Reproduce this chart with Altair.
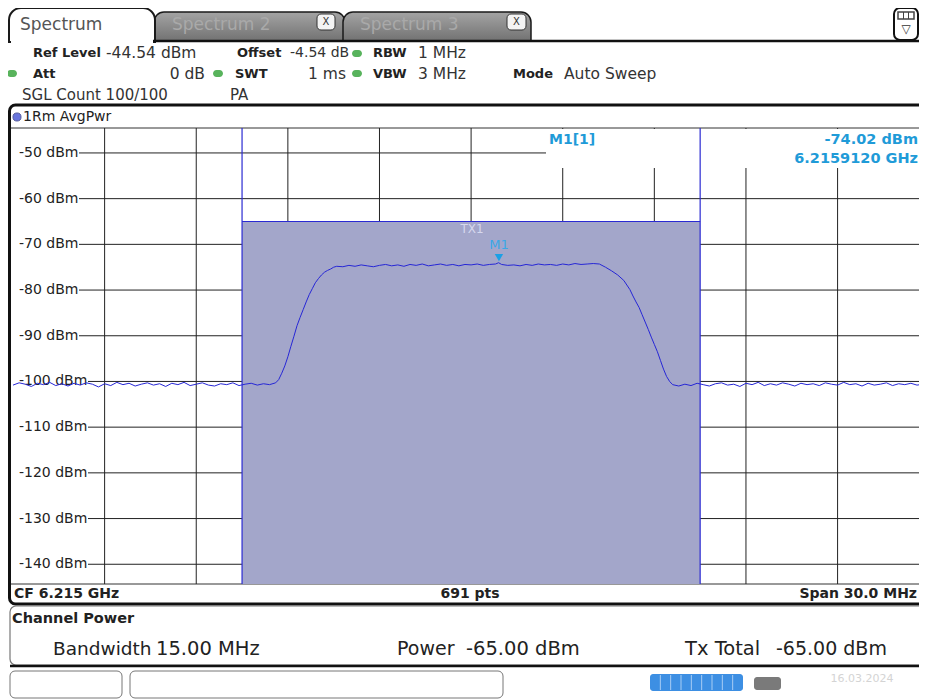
import altair as alt
import pandas as pd

# ---------------- data ----------------
left_noise_f = [-15.0, -14.8, -14.6, -14.4, -14.2, -14.0, -13.8, -13.6, -13.4, -13.2,
                -13.0, -12.8, -12.6, -12.4, -12.2, -12.0, -11.8, -11.6, -11.4, -11.2,
                -11.0, -10.8, -10.6, -10.4, -10.2, -10.0, -9.8, -9.6, -9.4, -9.2,
                -9.0, -8.8, -8.6, -8.4, -8.2, -8.0, -7.8, -7.6, -7.4, -7.2,
                -7.0, -6.8, -6.6]
left_noise_db = [-100.8, -100.3, -100.6, -101.1, -100.4, -100.7, -100.2, -100.9, -100.5, -101.0,
                 -100.4, -100.8, -100.3, -100.6, -101.2, -100.5, -100.9, -100.2, -100.7, -100.4,
                 -101.0, -100.6, -100.3, -100.8, -100.5, -101.1, -100.4, -100.7, -100.2, -100.9,
                 -100.6, -100.3, -100.8, -101.0, -100.5, -100.7, -100.3, -100.9, -100.6, -100.4,
                 -100.8, -100.5, -100.7]
rise_f = [-6.4, -6.3, -6.2, -6.1, -6.0, -5.9, -5.8, -5.7, -5.6, -5.5,
          -5.4, -5.3, -5.2, -5.1, -5.0, -4.9, -4.8, -4.7, -4.6, -4.5, -4.4]
rise_db = [-100.3, -99.6, -98.2, -96.6, -94.6, -92.3, -90.1, -87.8, -86.0, -84.3,
           -82.6, -81.0, -79.7, -78.4, -77.5, -76.7, -76.1, -75.7, -75.4, -75.0, -74.8]
top_f = [-4.2, -4.0, -3.8, -3.6, -3.4, -3.2, -3.0, -2.8, -2.6, -2.4,
         -2.2, -2.0, -1.8, -1.6, -1.4, -1.2, -1.0, -0.8, -0.6, -0.4,
         -0.2, 0.0, 0.2, 0.4, 0.6, 0.8, 0.9, 1.0, 1.2, 1.4,
         1.6, 1.8, 2.0, 2.2, 2.4, 2.6, 2.8, 3.0, 3.2, 3.4,
         3.6, 3.8, 4.0]
top_db = [-74.9, -74.6, -74.8, -74.5, -74.7, -74.9, -74.6, -74.4, -74.7, -74.5,
          -74.8, -74.4, -74.6, -74.3, -74.7, -74.5, -74.3, -74.6, -74.4, -74.7,
          -74.4, -74.5, -74.3, -74.6, -74.4, -74.3, -74.02, -74.4, -74.6, -74.5,
          -74.7, -74.4, -74.6, -74.3, -74.5, -74.4, -74.6, -74.3, -74.5, -74.2,
          -74.4, -74.3, -74.2]
fall_f = [4.2, 4.4, 4.6, 4.8, 5.0, 5.1, 5.2, 5.3, 5.4, 5.5, 5.6,
          5.7, 5.8, 5.9, 6.0, 6.1, 6.2, 6.3, 6.4, 6.5, 6.6, 6.8]
fall_db = [-74.3, -75.0, -75.8, -76.7, -77.9, -78.9, -79.9, -81.3, -82.6, -83.8, -85.4,
           -87.0, -88.6, -90.3, -91.9, -93.5, -95.4, -97.3, -98.9, -100.0, -100.7, -101.0]
right_noise_f = [7.0, 7.2, 7.4, 7.6, 7.8, 8.0, 8.2, 8.4, 8.6, 8.8,
                 9.0, 9.2, 9.4, 9.6, 9.8, 10.0, 10.2, 10.4, 10.6, 10.8,
                 11.0, 11.2, 11.4, 11.6, 11.8, 12.0, 12.2, 12.4, 12.6, 12.8,
                 13.0, 13.2, 13.4, 13.6, 13.8, 14.0, 14.2, 14.4, 14.6, 14.8,
                 15.0]
right_noise_db = [-100.6, -100.9, -100.4, -100.7, -101.0, -100.5, -100.3, -100.8, -100.6, -101.1,
                  -100.4, -100.7, -100.2, -100.9, -100.5, -100.8, -100.3, -100.6, -101.0, -100.4,
                  -100.7, -100.5, -100.9, -100.3, -100.6, -100.8, -100.2, -100.7, -100.5, -101.0,
                  -100.4, -100.8, -100.6, -100.3, -100.9, -100.5, -100.7, -100.4, -100.8, -100.6,
                  -100.5]

level_ticks = [-50, -60, -70, -80, -90, -100, -110, -120, -130, -140]
freq_ticks = [-12, -9, -6, -3, 0, 3, 6, 9, 12]
ref_level = -44.54
bottom_level = -144.54
span_lo = -15.0
center_ghz = 6.215
channel_lo, channel_hi = -7.5, 7.5
channel_power = -65.0
marker_f = 0.912
marker_db = -74.02

# ---------------- layout (page pixels) ----------------
OX, OY = 13, 128          # page position of plot origin
RIGHT = 919               # right edge of drawable page area
W, H = RIGHT - OX, 457    # plot area
PX_PER_MHZ = 30.54
x_hi = span_lo + W / PX_PER_MHZ

FONT = "DejaVu Sans"
xs = alt.Scale(domain=[span_lo, x_hi], nice=False, zero=False)
ys = alt.Scale(domain=[bottom_level, ref_level], nice=False, zero=False)

one = pd.DataFrame({"k": [0]})


def T(s, X, Y, size=14, weight="normal", color="#222", align="left"):
    return alt.Chart(one).mark_text(
        text=s, fontSize=size, fontWeight=weight, color=color, align=align,
        baseline="middle", font=FONT
    ).encode(x=alt.value(X - OX), y=alt.value(Y - OY))


def R(x1, y1, x2, y2, fill="white", stroke="", sw=1.0, r=0, tl=0, tr=0):
    props = dict(fill=fill)
    if stroke:
        props.update(stroke=stroke, strokeWidth=sw)
    if r:
        props["cornerRadius"] = r
    if tl:
        props["cornerRadiusTopLeft"] = tl
    if tr:
        props["cornerRadiusTopRight"] = tr
    return alt.Chart(one).mark_rect(**props).encode(
        x=alt.value(x1 - OX), x2=alt.value(x2 - OX),
        y=alt.value(y1 - OY), y2=alt.value(y2 - OY))


def L(x1, y1, x2, y2, color="#111", sw=1.0):
    return alt.Chart(one).mark_rule(color=color, strokeWidth=sw).encode(
        x=alt.value(x1 - OX), x2=alt.value(x2 - OX),
        y=alt.value(y1 - OY), y2=alt.value(y2 - OY))


GREEN = "#58b35c"
CYAN = "#1f9bd8"
layers = []

# ---------------- tabs ----------------
grad = alt.LinearGradient(
    gradient="linear",
    stops=[alt.GradientStop(color="#a4a4a4", offset=0),
           alt.GradientStop(color="#727272", offset=1)],
    x1=0, x2=0, y1=0, y2=1)
layers += [
    R(154, 12, 345, 41, fill=grad, stroke="#1a1a1a", sw=1.5, tl=10, tr=10),
    R(343, 12, 531, 41, fill=grad, stroke="#1a1a1a", sw=1.5, tl=10, tr=10),
    R(9, 8, 155, 42, fill="white", stroke="#1a1a1a", sw=2, tl=12, tr=12),
    L(153, 41, RIGHT, 41, sw=2.5),
    R(11, 40, 153, 45, fill="white"),
    T("Spectrum", 20, 25, size=17, color="#555"),
    T("Spectrum 2", 172, 25, size=17, color="#a9a9a9"),
    T("Spectrum 3", 360, 25, size=17, color="#a9a9a9"),
    R(317, 14, 335, 30, fill="#f4f4f4", stroke="#333", r=4),
    T("X", 326, 22, size=10, color="#333", align="center"),
    R(507, 14, 526, 30, fill="#f4f4f4", stroke="#333", r=4),
    T("X", 516.5, 22, size=10, color="#333", align="center"),
    R(894, 8, 918, 40, fill="white", stroke="#111", sw=2, r=6),
    R(898, 12, 914, 19, fill="white", stroke="#444", sw=1.5),
    L(903.5, 12, 903.5, 19, color="#444"),
    L(908.5, 12, 908.5, 19, color="#444"),
    T("▽", 906, 29, size=12, color="#333", align="center"),
]

# ---------------- header info ----------------
VAL = 15.5
LAB = 13
layers += [
    T("Ref Level", 33, 53, size=LAB, weight="bold"),
    T("-44.54 dBm", 106, 53, size=VAL, color="#333"),
    T("Offset", 237, 53, size=LAB, weight="bold"),
    T("-4.54 dB", 290, 53, size=14, color="#333"),
    R(352, 50, 362, 57, fill=GREEN, r=3.5),
    T("RBW", 373, 53, size=LAB, weight="bold"),
    T("1 MHz", 418, 53, size=VAL, color="#333"),
    R(7, 70, 17, 77, fill=GREEN, r=3.5),
    T("Att", 33, 74, size=LAB, weight="bold"),
    T("0 dB", 205, 74, size=VAL, color="#333", align="right"),
    R(213, 70, 223, 77, fill=GREEN, r=3.5),
    T("SWT", 235, 74, size=LAB, weight="bold"),
    T("1 ms", 346, 74, size=VAL, color="#333", align="right"),
    R(352, 70, 362, 77, fill=GREEN, r=3.5),
    T("VBW", 373, 74, size=LAB, weight="bold"),
    T("3 MHz", 418, 74, size=VAL, color="#333"),
    T("Mode", 513, 74, size=LAB, weight="bold"),
    T("Auto Sweep", 564, 74, size=VAL, color="#333"),
    T("SGL Count 100/100", 22, 95, size=15, color="#333"),
    T("PA", 230, 95, size=15, color="#333"),
]

# ---------------- frame ----------------
layers += [
    R(9.5, 105, 980, 604, fill="white", stroke="#111", sw=3, r=6),
    alt.Chart(one).mark_point(shape="circle", filled=True, size=65, color="#2a3bd0",
                              stroke="#101870", strokeWidth=1).encode(
        x=alt.value(17 - OX), y=alt.value(117 - OY)),
    T("1Rm AvgPwr", 23, 117, size=14, color="#222"),
    L(11, 128, RIGHT, 128, color="#333"),
    L(11, 584, RIGHT, 584, color="#333"),
]

# ---------------- grid & axis labels ----------------
lvl = pd.DataFrame({"db": level_ticks})
fq = pd.DataFrame({"f": freq_ticks})
layers += [
    alt.Chart(lvl).transform_filter("datum.db > -95").mark_rule(color="#222").encode(
        y=alt.Y("db:Q", scale=ys, axis=None), x=alt.value(79 - OX), x2=alt.value(W)),
    alt.Chart(lvl).transform_filter("datum.db < -95").mark_rule(color="#222").encode(
        y=alt.Y("db:Q", scale=ys, axis=None), x=alt.value(88 - OX), x2=alt.value(W)),
    alt.Chart(fq).mark_rule(color="#222").encode(
        x=alt.X("f:Q", scale=xs, axis=None), y=alt.value(0), y2=alt.value(H - 1)),
    alt.Chart(lvl).transform_calculate(t="datum.db + ' dBm'").mark_text(
        align="left", baseline="middle", fontSize=14, font=FONT, color="#222").encode(
        y=alt.Y("db:Q", scale=ys, axis=None), x=alt.value(19 - OX), text="t:N"),
    R(546, 129, 930, 168, fill="white"),
]

# ---------------- channel ----------------
chan = pd.DataFrame({"lo": [channel_lo], "hi": [channel_hi], "p": [channel_power]})
chan_edges = pd.DataFrame({"f": [channel_lo, channel_hi]})
layers += [
    alt.Chart(chan).mark_rect(fill="#a3a6ca").encode(
        x=alt.X("lo:Q", scale=xs, axis=None), x2="hi:Q",
        y=alt.Y("p:Q", scale=ys, axis=None), y2=alt.value(H - 1)),
    alt.Chart(chan_edges).mark_rule(color="#2a2ad2", strokeWidth=1.2).encode(
        x=alt.X("f:Q", scale=xs, axis=None), y=alt.value(0), y2=alt.value(H - 1)),
    alt.Chart(chan).mark_rule(color="#2a2ad2", strokeWidth=1.2).encode(
        x=alt.X("lo:Q", scale=xs, axis=None), x2="hi:Q",
        y=alt.Y("p:Q", scale=ys, axis=None)),
    T("TX1", 472, 229, size=12, color="#d6d8ee", align="center"),
]

# ---------------- trace ----------------
trace = pd.DataFrame({
    "f": left_noise_f + rise_f + top_f + fall_f + right_noise_f,
    "db": left_noise_db + rise_db + top_db + fall_db + right_noise_db,
})
layers.append(
    alt.Chart(trace).mark_line(color="#2626d6", strokeWidth=1).encode(
        x=alt.X("f:Q", scale=xs, axis=None), y=alt.Y("db:Q", scale=ys, axis=None))
)

# ---------------- marker ----------------
mk = pd.DataFrame({"f": [marker_f], "db": [marker_db]})
layers += [
    alt.Chart(mk).mark_point(shape="triangle-down", filled=True, size=70, color="#1aa0e6",
                             opacity=1, yOffset=-5).encode(
        x=alt.X("f:Q", scale=xs, axis=None), y=alt.Y("db:Q", scale=ys, axis=None)),
    alt.Chart(mk).mark_text(text="M1", dy=-18, fontSize=13, font=FONT, color="#3aa8e8").encode(
        x=alt.X("f:Q", scale=xs, axis=None), y=alt.Y("db:Q", scale=ys, axis=None)),
    T("M1[1]", 549, 140, size=14, weight="bold", color=CYAN),
    T(f"{marker_db:.2f} dBm", RIGHT - 1, 140, size=14.5, weight="bold", color=CYAN, align="right"),
    T(f"{center_ghz + marker_f / 1000:.7f} GHz", RIGHT - 1, 159, size=14.5, weight="bold",
      color=CYAN, align="right"),
]

# ---------------- bottom rows ----------------
layers += [
    T(f"CF {center_ghz} GHz", 14, 594, size=14, weight="bold", color="#222"),
    T("691 pts", 470, 594, size=14, weight="bold", color="#222", align="center"),
    T(f"Span {2 * abs(span_lo):.1f} MHz", 917, 594, size=14, weight="bold", color="#222",
      align="right"),
    R(10, 606, 980, 665, fill="white", stroke="#777", sw=1.2, r=6),
    L(10, 666, RIGHT, 666, sw=2.5),
    T("Channel Power", 12, 619, size=14.5, weight="bold", color="#222"),
    T("Bandwidth", 53, 649, size=18.5, color="#222"),
    T(f"{channel_hi - channel_lo:.2f} MHz", 156, 649, size=19.5, color="#222"),
    T("Power", 397, 649, size=19, color="#222"),
    T(f"{channel_power:.2f} dBm", 466, 649, size=19.5, color="#222"),
    T("Tx Total", 685, 649, size=19.5, color="#222"),
    T(f"{channel_power:.2f} dBm", 776, 649, size=19, color="#222"),
]

# ---------------- status bar ----------------
layers += [
    R(10, 671, 122, 698, fill="white", stroke="#777", r=5),
    R(130, 671, 503, 698, fill="white", stroke="#777", r=5),
    R(650, 674, 743, 691, fill="#3d8fe3", r=3),
]
for i in range(1, 9):
    xx = 650 + i * 93 / 9
    layers.append(L(xx, 675, xx, 690, color="#a8cdf4"))
layers += [
    R(754, 677, 781, 690, fill="#7a7a7a", r=3),
    T("16.03.2024", 862, 679, size=11, color="#d4d4d4", align="center"),
]

chart = alt.layer(*layers).properties(
    width=W, height=H,
    autosize=alt.AutoSizeParams(type="none"),
    padding={"left": OX - 8, "top": OY - 8, "right": 0, "bottom": 114},
    background="white",
).configure_view(strokeWidth=0)

chart.save("out.html", embed_options={"renderer": "svg", "actions": False})
